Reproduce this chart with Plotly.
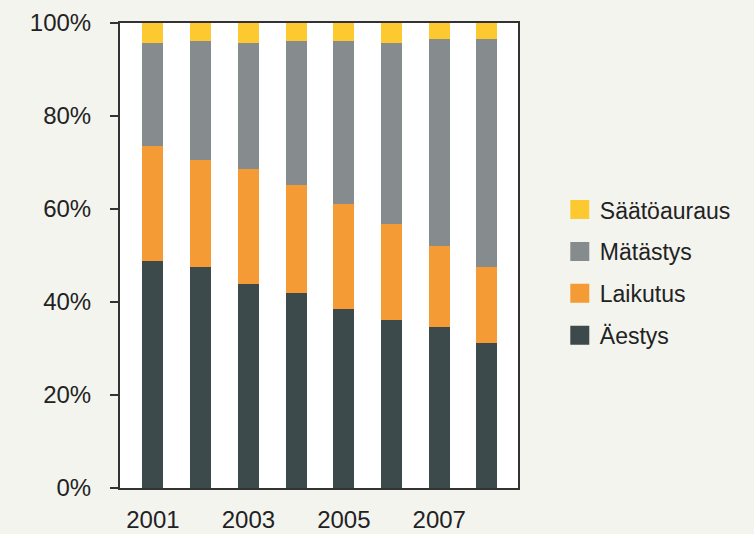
import plotly.graph_objects as go

years = [2001, 2002, 2003, 2004, 2005, 2006, 2007, 2008]
aestys = [48.8, 47.6, 43.8, 41.9, 38.4, 36.1, 34.6, 31.1]
laikutus = [24.8, 22.9, 24.8, 23.3, 22.6, 20.6, 17.5, 16.5]
matastys = [22.2, 25.6, 27.2, 30.9, 35.1, 39.1, 44.5, 49.0]
saatoauraus = [4.2, 3.9, 4.2, 3.9, 3.9, 4.2, 3.4, 3.4]

series = [
    ("Äestys", aestys, "#3c4a4b"),
    ("Laikutus", laikutus, "#f59b35"),
    ("Mätästys", matastys, "#868c8d"),
    ("Säätöauraus", saatoauraus, "#fdc931"),
]

font = "Liberation Sans, Arial, sans-serif"

fig = go.Figure()
for i, (name, vals, color) in enumerate(series):
    fig.add_trace(go.Bar(x=years, y=vals, name=name, marker_color=color,
                         marker_line_width=0, width=0.44, showlegend=False))
    # legend-only entry so the swatch can be a bigger square
    fig.add_trace(go.Scatter(x=[None], y=[None], mode="markers", name=name,
                             legendgroup=name, legendrank=10 - i,
                             marker=dict(symbol="square", size=16, color=color,
                                         line=dict(width=3, color=color))))

fig.update_layout(
    barmode="stack",
    width=754, height=534,
    margin=dict(l=120, r=236, t=23, b=46),
    paper_bgcolor="#f4f4ef",
    plot_bgcolor="white",
    font=dict(family=font, color="#222222", size=24),
    showlegend=True,
    legend=dict(x=1.105, y=0.645, xanchor="left", yanchor="top",
                traceorder="grouped", tracegroupgap=9,
                itemsizing="trace", itemwidth=30,
                font=dict(size=23, color="#222222"), bgcolor="rgba(0,0,0,0)"),
)
fig.update_xaxes(range=[2000.31, 2008.65], tickvals=[2001, 2003, 2005, 2007],
                 ticktext=["2001", "2003", "2005", "2007"],
                 showline=True, linecolor="#333333", linewidth=2, mirror=True,
                 ticks="", showgrid=False, zeroline=False, ticklabelstandoff=9,
                 automargin=False)
fig.update_yaxes(range=[0, 100], tickvals=[0, 20, 40, 60, 80, 100],
                 ticktext=["0%", "20%", "40%", "60%", "80%", "100%"],
                 showline=True, linecolor="#333333", linewidth=2, mirror=True,
                 ticks="outside", ticklen=8, tickwidth=2, tickcolor="#333333",
                 showgrid=False, zeroline=False, ticklabelstandoff=14,
                 automargin=False)

fig.write_html("out.html", config={"displayModeBar": False},
               post_script="document.body.style.margin='0';")
